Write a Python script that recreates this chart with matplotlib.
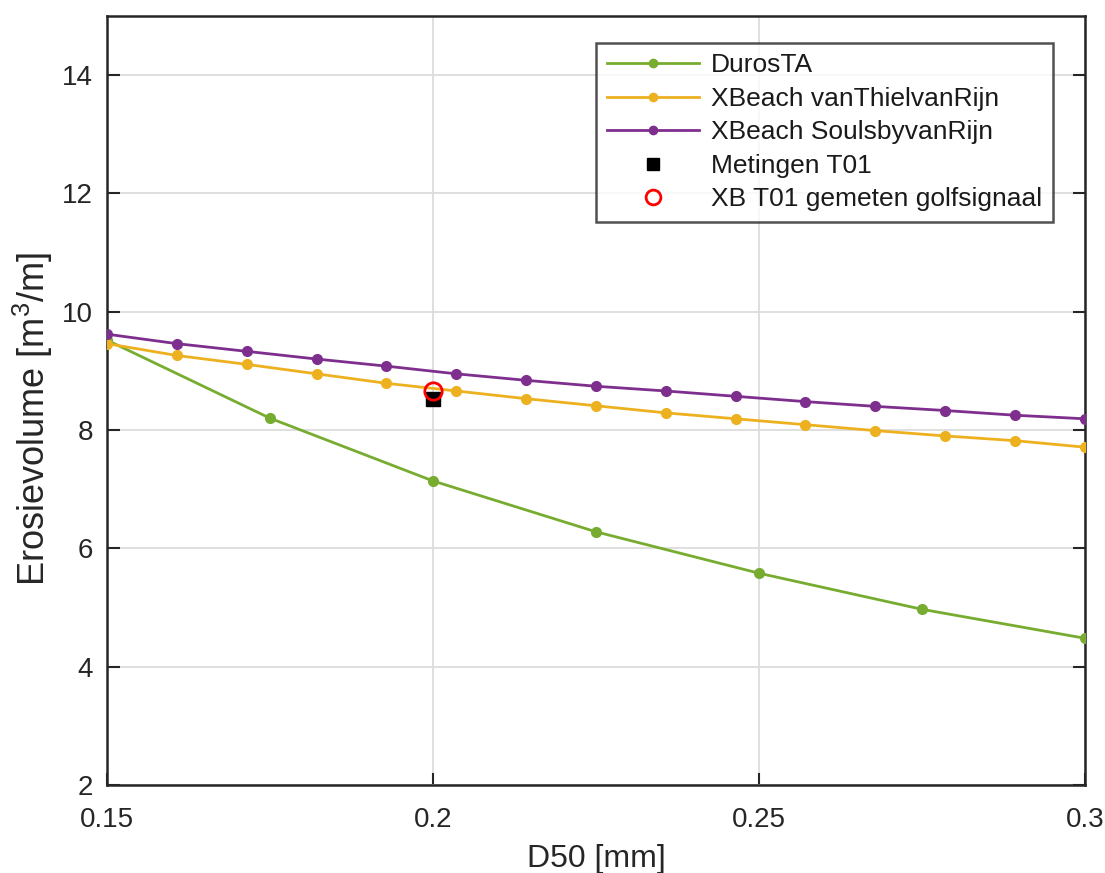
import matplotlib
matplotlib.use("Agg")
import matplotlib.pyplot as plt
import numpy as np

# Sediment grain size D50 [mm]
d50_duros = [0.15, 0.175, 0.2, 0.225, 0.25, 0.275, 0.3]
erosion_duros = [9.52, 8.20, 7.14, 6.28, 5.58, 4.97, 4.48]

d50_xb = [0.15, 0.160714, 0.171429, 0.182143, 0.192857, 0.203571, 0.214286,
          0.225, 0.235714, 0.246429, 0.257143, 0.267857, 0.278571, 0.289286, 0.3]
erosion_vtvr = [9.46, 9.26, 9.11, 8.95, 8.79, 8.66, 8.53, 8.41, 8.29, 8.19,
                8.09, 7.99, 7.90, 7.82, 7.71]
erosion_svr = [9.62, 9.46, 9.33, 9.20, 9.08, 8.95, 8.84, 8.74, 8.66, 8.57,
               8.48, 8.40, 8.33, 8.25, 8.19]

d50_t01 = [0.2]
erosion_meas_t01 = [8.52]
erosion_xb_t01 = [8.66]

labels = ["DurosTA", "XBeach vanThielvanRijn", "XBeach SoulsbyvanRijn",
          "Metingen T01", "XB T01 gemeten golfsignaal"]

plt.rcParams['font.family'] = ['Liberation Sans', 'DejaVu Sans']
plt.rcParams['mathtext.fontset'] = 'custom'
plt.rcParams['mathtext.rm'] = 'Liberation Sans'

fig = plt.figure(figsize=(11.05, 8.73), dpi=100)
ax = fig.add_axes([0.0968, 0.1008, 0.885, 0.881])

green = "#77AC30"
orange = "#EDB120"
purple = "#7E2F8E"
ink = "#262626"

ax.plot(d50_duros, erosion_duros, '-', color=green, lw=2, marker='o', ms=7,
        label=labels[0], zorder=3)
ax.plot(d50_xb, erosion_vtvr, '-', color=orange, lw=2, marker='o', ms=7,
        label=labels[1], zorder=3)
ax.plot(d50_xb, erosion_svr, '-', color=purple, lw=2, marker='o', ms=7,
        label=labels[2], zorder=3)
ax.plot(d50_t01, erosion_meas_t01, 's', color='black', ms=10, label=labels[3],
        zorder=4)
ax.plot(d50_t01, erosion_xb_t01, 'o', mfc='none', mec='red', mew=2, ms=12.5,
        label=labels[4], zorder=5)

ax.set_xlim(0.15, 0.3)
ax.set_ylim(2, 15)
ax.set_xticks([0.15, 0.2, 0.25, 0.3])
ax.set_xticklabels(["0.15", "0.2", "0.25", "0.3"])
ax.set_yticks([2, 4, 6, 8, 10, 12, 14])

ax.grid(True, color='#dcdcdc', lw=1.3)
ax.set_axisbelow(True)
for s in ax.spines.values():
    s.set_color(ink)
    s.set_linewidth(1.8)
ax.tick_params(axis='both', direction='in', length=9, width=1.5, colors=ink,
               labelsize=20, top=False, right=True)
ax.tick_params(axis='y', pad=10)
ax.tick_params(axis='x', pad=16)

ax.set_xlabel("D50 [mm]", fontsize=23, color=ink, labelpad=8)
ax.set_ylabel("Erosievolume [m$^3$/m]", fontsize=26, color=ink)
ax.yaxis.set_label_coords(-0.053, 0.476)

leg = ax.legend(loc='upper right', bbox_to_anchor=(0.9673, 0.9649),
                borderaxespad=0, fontsize=19, frameon=True, fancybox=False,
                edgecolor=ink, handlelength=3.5, labelspacing=0.36,
                borderpad=0.4, handletextpad=0.45, markerscale=0.85)
leg.get_frame().set_linewidth(1.8)
for t in leg.get_texts():
    t.set_color('#1a1a1a')

fig.savefig("out.png", dpi=100)
